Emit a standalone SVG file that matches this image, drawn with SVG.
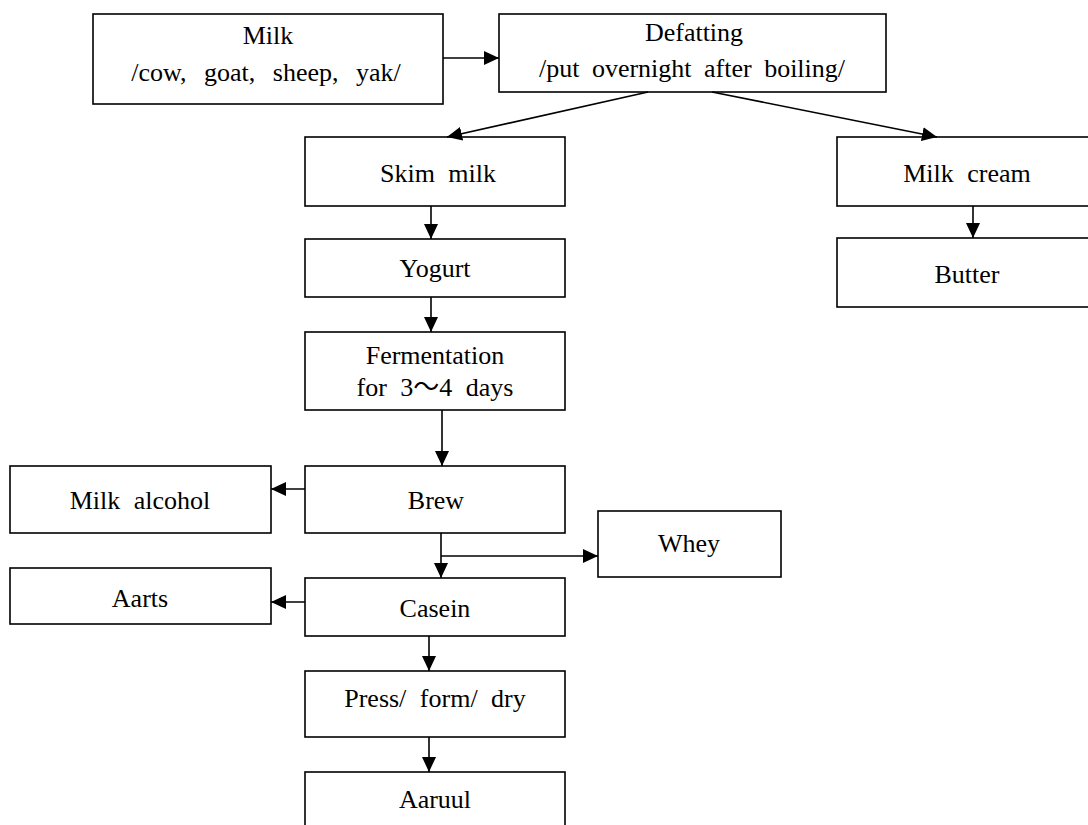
<svg xmlns="http://www.w3.org/2000/svg" width="1088" height="825" viewBox="0 0 1088 825">
<defs>
<marker id="ah" markerUnits="userSpaceOnUse" markerWidth="16" markerHeight="14" refX="15" refY="7" orient="auto">
<path d="M0,0 L15,7 L0,14 z" fill="#000"/>
</marker>
<style>
rect{fill:#fff;stroke:#000;stroke-width:1.6}
text{font-family:"Liberation Serif","Noto Sans CJK KR",serif;font-size:26px;fill:#000;text-anchor:middle;word-spacing:7px}
.wide{word-spacing:11px}
.c line,.c polyline{stroke:#000;stroke-width:1.6;fill:none}
.a{marker-end:url(#ah)}
</style>
</defs>
<rect width="1088" height="825" style="fill:#fff;stroke:none"/>
<g id="milk"><rect x="93" y="14" width="350" height="90"/><text x="268" y="44">Milk</text><text class="wide" x="266" y="81">/cow, goat, sheep, yak/</text></g>
<g id="defatting"><rect x="499" y="14" width="387" height="78"/><text x="694" y="41">Defatting</text><text x="692" y="77" style="word-spacing:6px">/put overnight after boiling/</text></g>
<g id="skim"><rect x="305" y="137" width="260" height="69"/><text x="438" y="182">Skim milk</text></g>
<g id="cream"><rect x="837" y="137" width="262" height="69"/><text x="967" y="182">Milk cream</text></g>
<g id="butter"><rect x="837" y="238" width="262" height="69"/><text x="967" y="283">Butter</text></g>
<g id="yogurt"><rect x="305" y="239" width="260" height="58"/><text x="435" y="277">Yogurt</text></g>
<g id="ferm"><rect x="305" y="332" width="260" height="78"/><text x="435" y="364">Fermentation</text><text x="435" y="396">for 3～4 days</text></g>
<g id="brew"><rect x="305" y="466" width="260" height="67"/><text x="436" y="509">Brew</text></g>
<g id="alcohol"><rect x="10" y="466" width="261" height="67"/><text x="140" y="509">Milk alcohol</text></g>
<g id="whey"><rect x="598" y="511" width="183" height="66"/><text x="689" y="552">Whey</text></g>
<g id="aarts"><rect x="10" y="568" width="261" height="56"/><text x="140" y="607">Aarts</text></g>
<g id="casein"><rect x="305" y="578" width="260" height="58"/><text x="435" y="617">Casein</text></g>
<g id="press"><rect x="305" y="671" width="260" height="66"/><text x="435" y="707">Press/ form/ dry</text></g>
<g id="aaruul"><rect x="305" y="772" width="260" height="70"/><text x="435" y="808">Aaruul</text></g>
<g id="connectors" class="c">
<line class="a" x1="443" y1="58" x2="499" y2="58"/>
<line class="a" x1="648" y1="92" x2="447" y2="137"/>
<line class="a" x1="712" y1="92" x2="937" y2="137"/>
<line class="a" x1="431" y1="206" x2="431" y2="239"/>
<line class="a" x1="431" y1="297" x2="431" y2="332"/>
<line class="a" x1="442" y1="410" x2="442" y2="466"/>
<line class="a" x1="305" y1="489" x2="271" y2="489"/>
<line class="a" x1="441" y1="533" x2="441" y2="578"/>
<polyline class="a" points="441,556 598,556"/>
<line class="a" x1="305" y1="602" x2="271" y2="602"/>
<line class="a" x1="429" y1="636" x2="429" y2="671"/>
<line class="a" x1="429" y1="737" x2="429" y2="772"/>
<line class="a" x1="973" y1="206" x2="973" y2="238"/>
</g>
</svg>
